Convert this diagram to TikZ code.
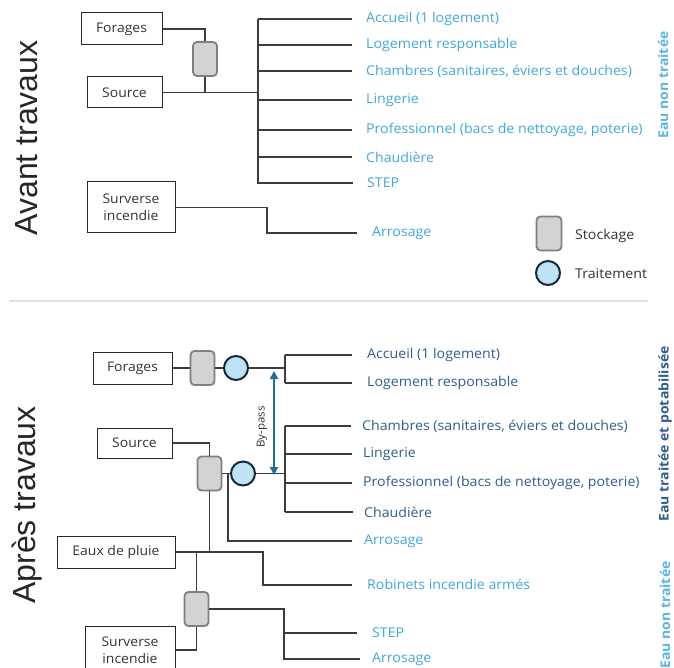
\documentclass[tikz,border=0pt]{standalone}
\usepackage{fontspec}
\setmainfont{Open Sans}[FakeStretch=1.05]
\newfontfamily\titlefont{Liberation Sans}
\usetikzlibrary{arrows.meta}
\definecolor{lightbluetxt}{HTML}{3FA7DC}
\definecolor{darkbluetxt}{HTML}{2F5D8C}
\definecolor{linegray}{HTML}{3C3C3C}
\definecolor{storefill}{HTML}{D3D3D3}
\definecolor{storedraw}{HTML}{7F7F7F}
\definecolor{treatfill}{HTML}{BEE3F5}
\definecolor{treatdraw}{HTML}{14293C}
\definecolor{bypasscol}{HTML}{1F6E99}
\begin{document}
\begin{tikzpicture}[x=1pt,y=-1pt,
  box/.style={draw=black!85, line width=1pt, fill=white, inner sep=0pt, align=center, font=\fontsize{13.3}{17}\selectfont, text=black!80},
  store/.style={draw=storedraw, fill=storefill, line width=1.8pt, rounded corners=4pt, minimum width=24pt, minimum height=34pt, inner sep=0pt},
  treat/.style={draw=treatdraw, fill=treatfill, line width=2pt, circle, minimum size=24pt, inner sep=0pt},
  lbl/.style={anchor=west, inner sep=0pt, font=\fontsize{13.5}{15}\selectfont},
  lb/.style={lbl, text=lightbluetxt},
  ld/.style={lbl, text=darkbluetxt},
  conn/.style={draw=linegray, line width=1.1pt},
  title/.style={rotate=90, font=\titlefont\fontsize{32}{36}\selectfont, text=black!85},
  side/.style={rotate=90, font=\bfseries\fontsize{13.3}{15}\selectfont},
  legtxt/.style={anchor=west, inner sep=0pt, font=\fontsize{13.5}{15}\selectfont, text=black!80}
]
\useasboundingbox (0,0) rectangle (674,668);
\clip (0,0) rectangle (674,668);

% ================= AVANT TRAVAUX =================
\node[title] (tA) at (27,138) {Avant travaux};

\node[box, minimum width=81pt, minimum height=32pt] (forA) at (121.5,29) {Forages};
\node[box, minimum width=75pt, minimum height=31pt] (srcA) at (124.5,92.5) {Source};
\node[store] (stA) at (205,59) {};
\node[box, minimum width=88pt, minimum height=51pt] (surA) at (131,207.5) {Surverse\\incendie};

\coordinate (busAt) at (258,19);
\coordinate (busAb) at (258,184);
\coordinate (busAm) at (258,92.5);

\node[lb] (a1) at (366,19) {Accueil (1 logement)};
\node[lb] (a2) at (366,45) {Logement responsable};
\node[lb] (a3) at (366,71) {Chambres (sanitaires, éviers et douches)};
\node[lb] (a4) at (366,100) {Lingerie};
\node[lb] (a5) at (366,130) {Professionnel (bacs de nettoyage, poterie)};
\node[lb] (a6) at (366,157) {Chaudière};
\node[lb] (a7) at (367,183) {STEP};
\node[lb] (a8) at (372,233) {Arrosage};

\draw[conn] (forA.east) -| (stA.north);
\draw[conn] (stA.south) -- (stA.south |- srcA.east);
\draw[conn] (srcA.east) -- (busAm);
\draw[conn] (busAt) -- (busAb);
\foreach \n in {a1,a2,a3,a4,a5,a6,a7}
  \draw[conn] (busAt |- \n.west) -- ([xshift=-14pt]\n.west);
\coordinate (kA) at (267,233);
\draw[conn] (surA.east) -| (kA) -- ([xshift=-15pt]a8.west);

% legend
\node[store, minimum width=25pt, minimum height=34pt] (legS) at (549,233.5) {};
\node[legtxt] (legSt) at (575,236) {Stockage};
\node[treat] (legT) at (548,273) {};
\node[legtxt] (legTt) at (575,274) {Traitement};

\node[side, text=lightbluetxt!85] (sA) at (663,85) {Eau non traitée};

% separator
\coordinate (sepL) at (9,301);
\coordinate (sepR) at (648,301);
\draw[black!12, line width=1.2pt] (sepL) -- (sepR);

% ================= APRES TRAVAUX =================
\node[title] (tB) at (27,505) {Après travaux};

\node[box, minimum width=79pt, minimum height=32pt] (forB) at (132.5,368) {Forages};
\node[store] (stB1) at (202.5,368) {};
\node[treat] (cB1) at (236,368) {};
\coordinate (busB1) at (285,368);

\node[ld] (b1) at (367,355) {Accueil (1 logement)};
\node[ld] (b2) at (367,383) {Logement responsable};

\draw[conn] (forB.east) -- (stB1.west);
\draw[conn] (stB1.east) -- (cB1.west);
\draw[conn] (cB1.east) -- (busB1);
\draw[conn] (busB1 |- b1.west) -- (busB1 |- b2.west);
\foreach \n in {b1,b2}
  \draw[conn] (busB1 |- \n.west) -- ([xshift=-15pt]\n.west);

\node[box, minimum width=75pt, minimum height=30pt] (srcB) at (134.5,443) {Source};
\node[store] (stB2) at (209.5,473.5) {};
\node[treat] (cB2) at (243,473.5) {};
\coordinate (busB2) at (285,473.5);

\node[ld] (b3) at (362,426) {Chambres (sanitaires, éviers et douches)};
\node[ld] (b4) at (363,454) {Lingerie};
\node[ld] (b5) at (363,483) {Professionnel (bacs de nettoyage, poterie)};
\node[ld] (b6) at (364,512) {Chaudière};
\node[lb] (b7) at (364,541) {Arrosage};

\draw[conn] (srcB.east) -| (stB2.north);
\draw[conn] (stB2.east) -- (cB2.west);
\draw[conn] (cB2.east) -- (busB2);
\draw[conn] (busB2 |- b3.west) -- (busB2 |- b6.west);
\foreach \n in {b3,b4,b5,b6}
  \draw[conn] (busB2 |- \n.west) -- ([xshift=-11pt]\n.west);
\coordinate (tB2) at (228,473.5);
\draw[conn] (tB2) |- ([xshift=-12pt]b7.west);

% by-pass
\coordinate (bpT) at (274,371);
\coordinate (bpB) at (274,475);
\draw[draw=bypasscol, line width=2pt, {Triangle[length=8pt,width=8pt]}-{Triangle[length=8pt,width=8pt]}] (bpT) -- (bpB);
\node[rotate=90, font=\fontsize{11}{12}\selectfont, text=black!80] (bpl) at (262,427) {By-pass};

% rain water
\node[box, minimum width=118pt, minimum height=32pt] (pluie) at (116,552) {Eaux de pluie};
\node[lb] (b8) at (367,584) {Robinets incendie armés};
\coordinate (kB) at (263,585);
\draw[conn] (stB2.south) -- (stB2.south |- pluie.east);
\draw[conn] (pluie.east) -| (kB) -- ([xshift=-15pt]b8.west |- kB);

\node[store] (stB3) at (196.5,609) {};
\draw[conn] (stB3.north) -- (stB3.north |- pluie.east);

\node[lb] (b9) at (372,633) {STEP};
\node[lb] (b10) at (372,659) {Arrosage};
\coordinate (busB3) at (284,609);
\draw[conn] (stB3.east) -- (busB3) |- ([xshift=-12pt]b10.west);
\draw[conn] (busB3 |- b9.west) -- ([xshift=-15pt]b9.west);

\node[box, minimum width=90pt, minimum height=66pt] (surB) at (130,659) {Surverse\\incendie\\\mbox{}};
\draw[conn] ([yshift=9pt]surB.east) -| (stB3.south);

\node[side, text=darkbluetxt] (sB1) at (665,434) {Eau traitée et potabilisée};
\node[side, text=lightbluetxt!85] (sB2) at (665,615) {Eau non traitée};
\end{tikzpicture}
\end{document}
